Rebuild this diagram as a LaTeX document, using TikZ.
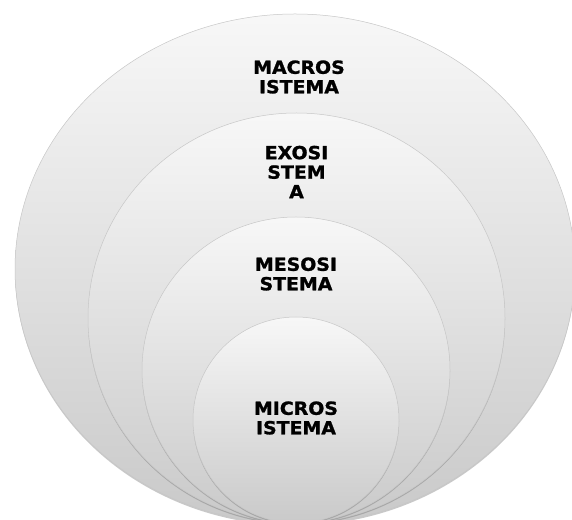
\documentclass[tikz,border=0pt]{standalone}
\usepackage{fontspec}
\newfontfamily\levelfont{DejaVu Sans}[BoldFeatures={FakeBold=1.3,FakeStretch=1.05}]
\usetikzlibrary{shapes.geometric,shadows}
\tikzset{
  ring/.style={ellipse, inner sep=0pt, draw=black!22, line width=0.5pt,
    top color=black!3, bottom color=black!21,
    drop shadow={shadow xshift=0pt, shadow yshift=-1.5pt, opacity=0.35, fill=black!60}},
  label/.style={font=\levelfont\bfseries\fontsize{18}{19.5}\selectfont, align=center, text=black}
}
\begin{document}
\begin{tikzpicture}[x=1pt,y=1pt]
  \useasboundingbox (0,0) rectangle (572,519);
  \clip (0,0) rectangle (572,519);
  \fill[white] (0,0) rectangle (572,519);
  % nested spheres, all resting on the bottom edge
  \node[ring, minimum width=560pt, minimum height=510pt] (macro) at (295,250) {};
  \node[ring, minimum width=417pt, minimum height=410pt] (exo) at (296.5,201) {};
  \node[ring, minimum width=308pt, minimum height=306pt] (meso) at (296,149) {};
  \node[ring, minimum width=206pt, minimum height=206pt] (micro) at (296,99) {};
  % level names
  \node[label] (tmacro) at (299,442) {MACROS\\ISTEMA};
  \node[label] (texo) at (296.5,347) {EXOSI\\STEM\\A};
  \node[label] (tmeso) at (296,245) {MESOSI\\STEMA};
  \node[label] (tmicro) at (296,101) {MICROS\\ISTEMA};
\end{tikzpicture}
\end{document}
